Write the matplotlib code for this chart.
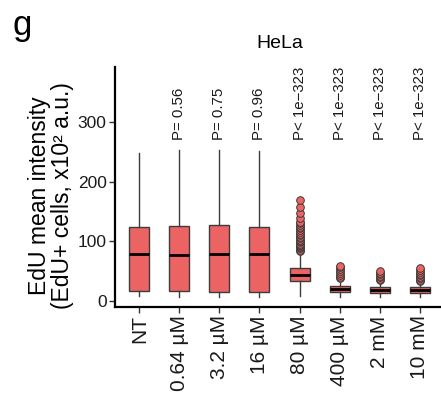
import matplotlib
matplotlib.use("Agg")
import matplotlib.pyplot as plt

plt.rcParams['font.family'] = ['Liberation Sans', 'DejaVu Sans']

# Treatment groups and summary statistics (EdU mean intensity, x10^2 a.u.)
groups = ["NT", "0.64 µM", "3.2 µM", "16 µM", "80 µM", "400 µM", "2 mM", "10 mM"]
medians = [78.3, 77.1, 78.3, 79.3, 44.1, 20.1, 19.0, 18.6]
q1s = [17.3, 16.2, 15.6, 15.1, 33.5, 14.6, 13.4, 13.4]
q3s = [124.5, 125.7, 126.8, 124.5, 54.8, 25.1, 23.5, 23.5]
whisk_lo = [8.0, 7.5, 7.5, 7.5, 8.0, 7.5, 7.5, 7.5]
whisk_hi = [248.5, 253.0, 252.5, 252.0, 81.0, 31.0, 31.5, 30.5]
outliers = [
    [], [], [], [],
    [84.3, 86, 88, 90, 92, 93.8, 96, 99.4, 101, 103, 105, 108, 110.6, 113,
     116, 119, 121.5, 124, 127, 130, 133, 138.5, 148, 157, 169],
    [38, 41, 44, 47.5, 51, 54, 57, 59.2],
    [35.2, 37.5, 39.7, 42, 44.7, 47, 50.3],
    [33.5, 36, 38, 41, 43.6, 46, 49.2, 52, 54.7],
]
p_labels = ["", "P= 0.56", "P= 0.75", "P= 0.96", "P< 1e\u2212323",
            "P< 1e\u2212323", "P< 1e\u2212323", "P< 1e\u2212323"]

W, H, DPI = 441, 398, 100
fig = plt.figure(figsize=(W / DPI, H / DPI), dpi=DPI)
ax = fig.add_axes([115 / W, 1 - 307 / H, 327 / W, 240 / H])

fill = "#EB6363"
edge = "#3c3c3c"

stats = []
for i in range(len(groups)):
    stats.append(dict(med=medians[i], q1=q1s[i], q3=q3s[i],
                      whislo=whisk_lo[i], whishi=whisk_hi[i],
                      fliers=outliers[i]))

ax.bxp(stats, positions=range(len(groups)), widths=0.5, patch_artist=True,
       showcaps=False,
       boxprops=dict(facecolor=fill, edgecolor=edge, linewidth=1.0),
       medianprops=dict(color="black", linewidth=2.0),
       whiskerprops=dict(color=edge, linewidth=1.0),
       flierprops=dict(marker="o", markerfacecolor=fill, markeredgecolor=edge,
                       markeredgewidth=0.7, markersize=5.5))

for i, lab in enumerate(p_labels):
    if lab:
        ax.text(i, 270, lab, rotation=90, ha="center", va="bottom",
                fontsize=10.8, color="#1a1a1a")

ax.set_xlim(-0.61, 7.56)
ax.set_ylim(-10, 392)
ax.set_yticks([0, 100, 200, 300])
ax.set_xticks(range(len(groups)))
ax.set_xticklabels(groups, rotation=90, ha="center", va="top")

for s in ["top", "right"]:
    ax.spines[s].set_visible(False)
for s in ["left", "bottom"]:
    ax.spines[s].set_linewidth(1.6)
    ax.spines[s].set_color("black")
ax.tick_params(axis="both", length=4, width=1.0, color="#333333",
               labelcolor="#1a1a1a", pad=2)
ax.tick_params(axis="y", labelsize=12.5)
ax.tick_params(axis="x", labelsize=15)

fig.text(280 / W, 1 - 43 / H, "HeLa", ha="center", va="center", fontsize=14)
fig.text(12 / W, 1 - 25 / H, "g", ha="left", va="center", fontsize=25)
fig.text(51 / W, 1 - 196 / H, "EdU mean intensity\n(EdU+ cells, x10² a.u.)",
         rotation=90, ha="center", va="center", multialignment="center",
         fontsize=16.5, linespacing=1.0)

fig.savefig("out.png", dpi=DPI)
